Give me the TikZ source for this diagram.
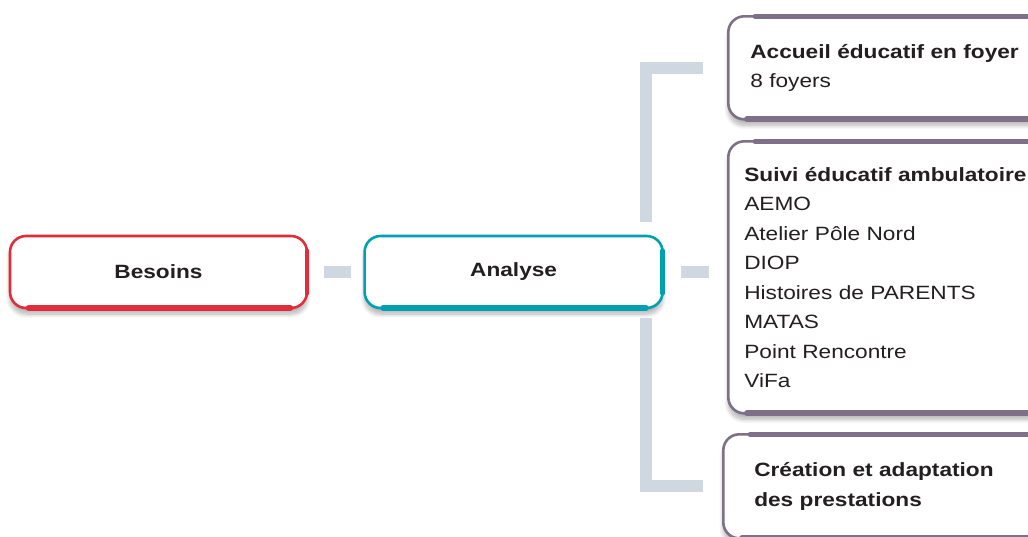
\documentclass[tikz,border=0pt]{standalone}
\usepackage{fontspec}
\setmainfont{Liberation Sans}[FakeStretch=1.18]
\usepackage{xcolor}
\usetikzlibrary{positioning,shadows.blur}
\definecolor{besoinsred}{RGB}{224,45,58}
\definecolor{analyseteal}{RGB}{0,160,176}
\definecolor{offermauve}{RGB}{126,112,136}
\definecolor{barblue}{RGB}{207,216,224}
\definecolor{txt}{RGB}{35,31,32}
\tikzset{
    stroke/.style={draw=#1, line width=3pt, line cap=round}, % heavier brush strokes
    box/.style={draw=#1, fill=white, rounded corners=8pt, line width=1.3pt, % the brush-like frames
        minimum height=36pt, text=txt,
        blur shadow={shadow xshift=0pt, shadow yshift=-3pt, shadow blur steps=12, shadow opacity=30},
        font=\bfseries\fontsize{9.6}{14.75}\selectfont,
        append after command={([xshift=10pt,yshift=0.65pt]\tikzlastnode.south west)
            edge[stroke=#1] ([xshift=-9pt,yshift=0.65pt]\tikzlastnode.south east)}},
    stage/.style={box=#1,
        append after command={([xshift=-0.65pt,yshift=-8pt]\tikzlastnode.north east)
            edge[stroke=#1, line width=2.4pt] ([xshift=-0.65pt,yshift=8pt]\tikzlastnode.south east)}},
    offer/.style={box=offermauve, anchor=north west, align=left,
        font=\fontsize{9.6}{14.75}\selectfont,
        append after command={([xshift=14pt,yshift=-0.65pt]\tikzlastnode.north west)
            edge[stroke=offermauve, line width=2.4pt] ([xshift=-6pt,yshift=-0.65pt]\tikzlastnode.north east)}},
    bar/.style={draw=barblue, line width=6pt}, % grey connectors
}

\begin{document}
\begin{tikzpicture}[x=0.5pt, y=-0.5pt, node distance=27.5pt]
    \useasboundingbox (0,0) rectangle (1028,536);

    % Boites
    \node[stage=besoinsred, minimum width=148.5pt] (bes) at (158.5,272) {Besoins};
    \node[stage=analyseteal, minimum width=149pt] (ana) [right=of bes] {Analyse};
    \node[offer, text width=140pt, inner xsep=11pt, minimum height=51.5pt] (acc) at (727,15)
        {\textbf{Accueil éducatif en foyer}\\8 foyers};
    \node[offer, text width=146pt, inner xsep=8pt, minimum height=136pt] (sui) at (727,140)
        {\textbf{Suivi éducatif ambulatoire}\\AEMO\\Atelier Pôle Nord\\DIOP\\Histoires de PARENTS\\MATAS\\Point Rencontre\\ViFa};
    \node[offer, text width=140pt, inner xsep=15.5pt, minimum height=52pt] (cre) at (722,433)
        {\textbf{Création et adaptation}\\\textbf{des prestations}};

    % Liens
    \coordinate (top) at (646,222);
    \coordinate (bot) at (646,318);
    \draw[bar] ([xshift=8pt]bes.east) -- ([xshift=-6pt]ana.west);
    \draw[bar] ([xshift=8.5pt]ana.east) -- ([xshift=-9pt]sui.west |- ana.east);
    \draw[bar] ([xshift=-12pt]acc.west) -| (top);
    \draw[bar] ([xshift=-9.5pt]cre.west) -| (bot);

\end{tikzpicture}
\end{document}
